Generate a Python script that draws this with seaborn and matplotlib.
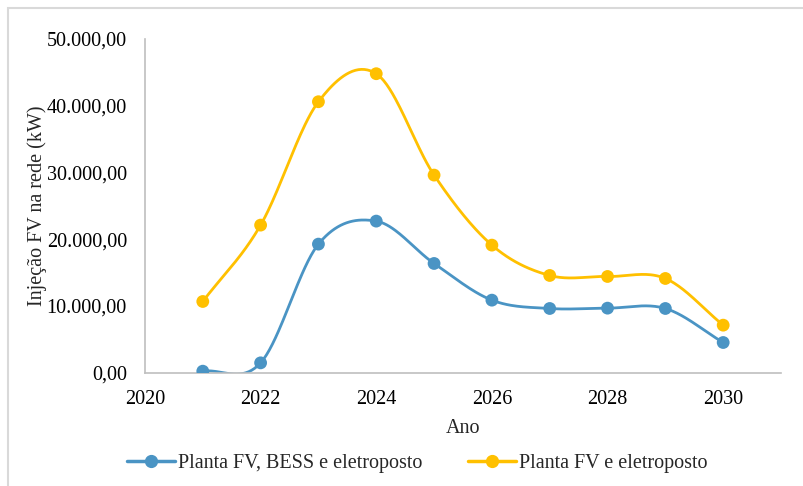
import numpy as np
import pandas as pd
import matplotlib
matplotlib.use("Agg")
import matplotlib.pyplot as plt
from matplotlib.lines import Line2D
from matplotlib.patches import Rectangle
import seaborn as sns

# Annual grid injection (kW) for each configuration
anos = [2021, 2022, 2023, 2024, 2025, 2026, 2027, 2028, 2029, 2030]
com_bess = [200, 1450, 19250, 22700, 16350, 10850, 9600, 9650, 9600, 4500]
sem_bess = [10650, 22100, 40600, 44800, 29600, 19100, 14550, 14400, 14100, 7100]

serie_bess = "Planta FV, BESS e eletroposto"
serie_sem = "Planta FV e eletroposto"
x_ticks = [2020, 2022, 2024, 2026, 2028, 2030]
y_ticks = [0, 10000, 20000, 30000, 40000, 50000]

cor_azul = "#4A94C4"
cor_amarelo = "#FFC000"
fonte = 14.5


def suavizar(x, y, n=40):
    """Catmull-Rom spline through the points (Excel-style smoothed line)."""
    x = np.asarray(x, float)
    y = np.asarray(y, float)
    px = np.concatenate([[2 * x[0] - x[1]], x, [2 * x[-1] - x[-2]]])
    py = np.concatenate([[2 * y[0] - y[1]], y, [2 * y[-1] - y[-2]]])
    xs, ys = [], []
    t = np.linspace(0, 1, n)
    for i in range(1, len(px) - 2):
        p0x, p1x, p2x, p3x = px[i - 1:i + 3]
        p0y, p1y, p2y, p3y = py[i - 1:i + 3]
        # Bezier control points
        c1x, c1y = p1x + (p2x - p0x) / 6, p1y + (p2y - p0y) / 6
        c2x, c2y = p2x - (p3x - p1x) / 6, p2y - (p3y - p1y) / 6
        bx = (1 - t) ** 3 * p1x + 3 * (1 - t) ** 2 * t * c1x + 3 * (1 - t) * t ** 2 * c2x + t ** 3 * p2x
        by = (1 - t) ** 3 * p1y + 3 * (1 - t) ** 2 * t * c1y + 3 * (1 - t) * t ** 2 * c2y + t ** 3 * p2y
        xs.extend(bx if i == 1 else bx[1:])
        ys.extend(by if i == 1 else by[1:])
    return np.array(xs), np.array(ys)


sns.set_theme(style="white")
plt.rcParams["font.family"] = ["Liberation Serif", "DejaVu Serif"]

fig = plt.figure(figsize=(8.04, 4.86), dpi=100)
ax = fig.add_axes([0.1803, 0.2335, 0.7911, 0.6862])

# Light chart-area frame
fig.patches.append(Rectangle((8 / 804, -0.1), 1.2, 1 - 8 / 486 + 0.1,
                             transform=fig.transFigure, fill=False,
                             edgecolor="#d9d9d9", linewidth=1.5, zorder=0))

for valores, cor in [(com_bess, cor_azul), (sem_bess, cor_amarelo)]:
    sx, sy = suavizar(anos, valores)
    curva = pd.DataFrame({"x": sx, "y": sy})
    sns.lineplot(data=curva, x="x", y="y", sort=False, estimator=None,
                 color=cor, linewidth=2.0, ax=ax)
    pontos = pd.DataFrame({"x": anos, "y": valores})
    sns.scatterplot(data=pontos, x="x", y="y", color=cor, s=85,
                    edgecolor="none", ax=ax, zorder=3)

ax.set_xlim(2020, 2031)
ax.set_ylim(0, 50000)
ax.set_xticks(x_ticks)
ax.set_yticks(y_ticks)
ax.set_xticklabels([str(v) for v in x_ticks])
ax.set_yticklabels([f"{v:,.2f}".replace(",", "X").replace(".", ",").replace("X", ".") for v in y_ticks])
ax.tick_params(axis="both", length=0, labelsize=fonte, colors="#000000")
ax.tick_params(axis="y", pad=13)
ax.tick_params(axis="x", pad=12.5)

for lado in ["top", "right"]:
    ax.spines[lado].set_visible(False)
for lado in ["left", "bottom"]:
    ax.spines[lado].set_color("#bfbfbf")
    ax.spines[lado].set_linewidth(1.2)

ax.set_xlabel("Ano", fontsize=fonte, labelpad=7)
ax.set_ylabel("Injeção FV na rede (kW)", fontsize=fonte, labelpad=0)
ax.grid(False)

handles = [
    Line2D([0], [0], color=cor_azul, linewidth=2.5, marker="o", markersize=8.5),
    Line2D([0], [0], color=cor_amarelo, linewidth=2.5, marker="o", markersize=8.5),
]
fig.legend(handles, [serie_bess, serie_sem], loc="center",
           bbox_to_anchor=(0.519, 0.047), ncol=2, frameon=False,
           fontsize=fonte, handlelength=2.35, handletextpad=0.15, columnspacing=2.3)

fig.savefig("out.png", dpi=100, facecolor="white")
